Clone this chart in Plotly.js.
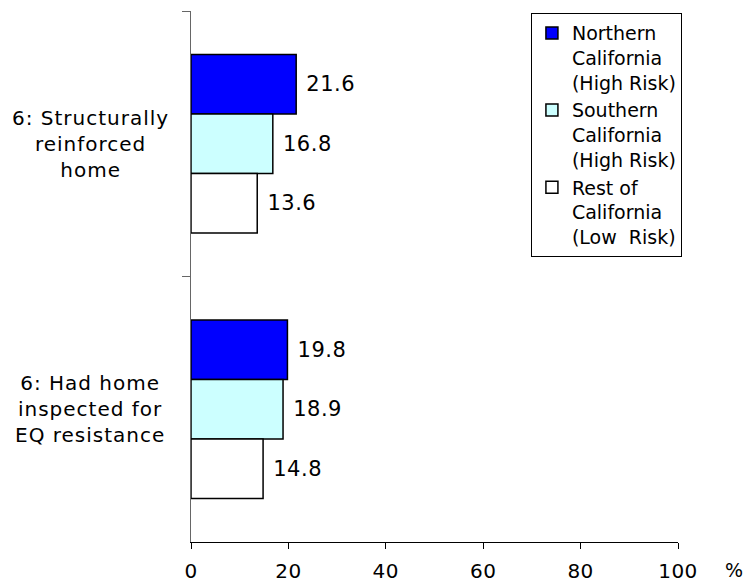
<!DOCTYPE html>
<html>
<head>
<meta charset="utf-8">
<script src="https://cdn.plot.ly/plotly-3.0.1.min.js"></script>
<style>
html,body{margin:0;padding:0;background:#fff;}
#chart{width:744px;height:584px;}
.annotation-text{letter-spacing:1px;}
.bartext{letter-spacing:0.5px;}
.xtick text{letter-spacing:0.5px;}
</style>
</head>
<body>
<div id="chart"></div>
<script>
var categories = ["6: Structurally reinforced home", "6: Had home inspected for EQ resistance"];
var categoryLabels = ["6: Structurally<br>reinforced<br>home", "6: Had home<br>inspected for<br>EQ resistance"];
var seriesNames = ["Northern<br>California<br>(High Risk)", "Southern<br>California<br>(High Risk)", "Rest of<br>California<br>(Low  Risk)"];
var northern = [21.6, 19.8];
var southern = [16.8, 18.9];
var restOf = [13.6, 14.8];
var xTicks = [0, 20, 40, 60, 80, 100];

var colors = ["#0000ff", "#ccffff", "#ffffff"];
var series = [northern, southern, restOf];
var FONT = "DejaVu Sans, Arial, sans-serif";

var traces = series.map(function (vals, i) {
  return {
    type: "bar",
    orientation: "h",
    name: seriesNames[i],
    x: vals,
    y: categories,
    marker: { color: colors[i], line: { color: "#000", width: 1.5 } },
    texttemplate: "\u00a0%{x}",
    textposition: "outside",
    cliponaxis: false,
    textfont: { family: FONT, size: 21, color: "#000" },
    hoverinfo: "none"
  };
});

var annotations = categories.map(function (c, i) {
  return {
    xref: "paper", yref: "y", x: -0.207, y: c,
    xanchor: "center", yanchor: "middle", align: "center",
    text: categoryLabels[i], showarrow: false,
    font: { family: FONT, size: 20, color: "#000" }
  };
});
annotations.push({
  xref: "paper", yref: "paper", x: 1.117, y: -0.052,
  xanchor: "center", yanchor: "middle",
  text: "%", showarrow: false,
  font: { family: FONT, size: 19, color: "#000" }
});

var layout = {
  width: 744, height: 584,
  margin: { l: 191, r: 66, t: 11, b: 42, pad: 0 },
  paper_bgcolor: "#fff", plot_bgcolor: "#fff",
  barmode: "group", bargap: 0.327, bargroupgap: 0,
  showlegend: true,
  legend: {
    x: 0.698, y: 0.996, xanchor: "left", yanchor: "top",
    bordercolor: "#000", borderwidth: 1, bgcolor: "#fff",
    traceorder: "normal", valign: "top",
    font: { family: FONT, size: 19, color: "#000" }
  },
  xaxis: {
    range: [0, 100], tickvals: xTicks, ticktext: xTicks.map(String),
    showgrid: false, zeroline: false, showline: true, linecolor: "#000", linewidth: 1,
    ticks: "outside", ticklen: 6, tickcolor: "#000", ticklabelstandoff: 5,
    tickfont: { family: FONT, size: 20, color: "#000" }
  },
  yaxis: {
    type: "category", range: [1.5, -0.5],
    showgrid: false, zeroline: false, showline: true, linecolor: "#666", linewidth: 1,
    ticks: "outside", tickson: "boundaries", ticklen: 8, tickcolor: "#666",
    showticklabels: false
  },
  annotations: annotations
};

Plotly.newPlot("chart", traces, layout, { staticPlot: true, displayModeBar: false });
</script>
</body>
</html>
